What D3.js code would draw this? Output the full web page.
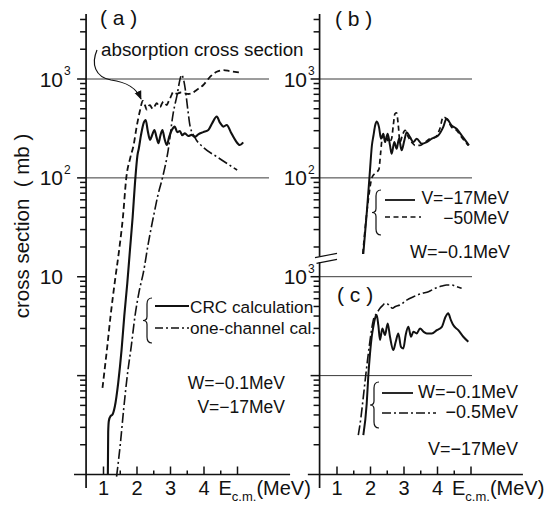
<!DOCTYPE html>
<html>
<head>
<meta charset="utf-8">
<script src="https://cdn.jsdelivr.net/npm/d3@7"></script>
<style>
  html, body { margin: 0; padding: 0; background: #fff; }
  svg { display: block; font-family: "Liberation Sans", Arial, Helvetica, sans-serif; }
</style>
</head>
<body>
<svg id="fig" width="548" height="506"></svg>
<script>
// Fusion cross sections (mb) against centre-of-mass energy E (MeV): [E, sigma]

// (a) CRC calculation, absorption cross section, one-channel calculation
const crcA = [[1.13,0.1],[1.14,0.27],[1.16,0.35],[1.21,0.39],[1.26,0.40],[1.34,0.49],[1.44,0.85],
  [1.54,1.83],[1.62,4.0],[1.71,8.6],[1.79,18.7],[1.87,40],[1.94,89],[2.02,175],[2.05,195],
  [2.12,272],[2.2,360],[2.26,385],[2.32,300],[2.39,242],[2.45,270],[2.52,305],[2.58,260],
  [2.64,224],[2.7,270],[2.76,305],[2.82,250],[2.89,215],[2.96,260],[3.04,305],[3.13,330],
  [3.2,290],[3.28,298],[3.35,270],[3.43,282],[3.53,265],[3.63,272],[3.73,260],[3.83,276],
  [3.98,290],[4.13,305],[4.25,360],[4.38,417],[4.48,360],[4.58,330],[4.68,343],[4.8,290],
  [4.93,242],[5.07,215],[5.17,229]];
const absorptionA = [[0.97,0.75],[1.04,1.2],[1.10,1.8],[1.21,4.0],[1.34,9],[1.47,19],[1.58,40],
  [1.68,100],[1.80,160],[1.90,215],[1.99,330],[2.09,480],[2.17,600],[2.24,540],[2.29,490],
  [2.34,530],[2.39,545],[2.44,510],[2.49,500],[2.54,540],[2.59,570],[2.64,540],[2.69,520],
  [2.74,560],[2.79,590],[2.84,560],[2.89,545],[2.94,590],[2.99,640],[3.04,700],[3.08,740],
  [3.14,720],[3.19,710],[3.3,730],[3.43,717],[3.53,705],[3.63,717],[3.78,775],[3.98,870],
  [4.18,1050],[4.38,1185],[4.58,1230],[4.78,1200],[4.98,1175],[5.13,1160]];
const oneChannelA = [[1.39,0.095],[1.50,0.2],[1.60,0.45],[1.71,1.0],[1.83,2.0],[1.94,4.0],
  [2.06,7.0],[2.19,11],[2.34,22],[2.50,42],[2.63,68],[2.76,100],[2.93,190],[3.08,450],
  [3.20,700],[3.28,980],[3.33,1100],[3.40,950],[3.45,750],[3.52,480],[3.58,340],[3.73,255],
  [3.97,205],[4.39,163],[4.99,120]];

// (b) V = -17 MeV and V = -50 MeV, W = -0.1 MeV
const v17B = [[1.785,17],[1.89,45],[1.985,120],[2.04,210],[2.09,270],[2.14,340],[2.185,372],
  [2.254,326],[2.313,249],[2.382,279],[2.433,230],[2.513,279],[2.582,213],[2.633,175],
  [2.71,230],[2.78,197],[2.85,249],[2.93,190],[3.01,239],[3.08,290],[3.18,258],[3.28,230],
  [3.38,249],[3.53,221],[3.68,230],[3.83,249],[4.02,268],[4.17,326],[4.27,396],[4.42,339],
  [4.57,314],[4.72,269],[4.87,230],[4.94,213]];
const v50B = [[1.77,17],[1.86,36],[1.94,62],[2.04,100],[2.1,108],[2.18,114],[2.25,122],
  [2.3,175],[2.34,240],[2.41,279],[2.48,258],[2.55,230],[2.63,249],[2.68,339],[2.73,445],
  [2.78,455],[2.83,339],[2.88,230],[2.95,268],[3.03,302],[3.13,258],[3.23,230],[3.33,213],
  [3.48,213],[3.63,230],[3.78,249],[3.93,258],[4.07,314],[4.17,413],[4.27,396],[4.42,326],
  [4.57,302],[4.72,258],[4.92,213]];

// (c) W = -0.1 MeV and W = -0.5 MeV, V = -17 MeV
const w01C = [[1.786,25],[1.887,52],[1.935,100],[1.985,167],[2.036,246],[2.084,311],[2.134,378],
  [2.185,409],[2.234,323],[2.284,229],[2.353,300],[2.433,257],[2.513,337],[2.582,247],
  [2.68,181],[2.753,220],[2.83,267],[2.91,195],[2.98,188],[3.05,257],[3.13,311],[3.21,247],
  [3.28,278],[3.38,267],[3.48,300],[3.58,278],[3.68,267],[3.83,267],[3.98,288],[4.13,311],
  [4.24,393],[4.32,426],[4.4,364],[4.47,324],[4.62,288],[4.77,247],[4.92,220]];
const w05C = [[1.636,25],[1.716,38],[1.786,61],[1.857,100],[1.935,167],[2.015,267],[2.084,364],
  [2.185,426],[2.284,479],[2.36,510],[2.433,537],[2.51,530],[2.582,500],[2.66,480],[2.73,497],
  [2.88,517],[3.08,580],[3.28,627],[3.53,678],[3.73,705],[3.93,763],[4.13,805],[4.27,824],
  [4.42,824],[4.57,792],[4.72,763]];

// axis ticks and labels
const xTickValues = [1, 2, 3, 4];
const xTickLabels = ["1", "2", "3", "4"];
const xMinorValues = [1.5, 2.5, 3.5, 4.5];
const xMajorValues = [1, 2, 3, 4, 5];
const yLabelValuesA = [1000, 100, 10];
const yLabelBaseA = ["10", "10", "10"];
const yLabelSupA = ["3", "2", ""];
const yLabelValuesB = [1000, 100];
const yLabelBaseB = ["10", "10"];
const yLabelSupB = ["3", "2"];
const yLabelValuesC = [1000];
const yLabelBaseC = ["10"];
const yLabelSupC = ["3"];

const svg = d3.select("#fig");
const ink = "#111";

// scales
const xA = d3.scaleLinear().domain([1, 5]).range([103.5, 237.5]);
const xR = d3.scaleLinear().domain([1, 5]).range([337, 471]);
const yA = d3.scaleLog().domain([0.1, 1000]).range([474.5, 79]);
const yB = yA.copy();
const yC = d3.scaleLog().domain([10, 1000]).range([474.5, 276.7]);

// arrow head
svg.append("defs").append("marker")
  .attr("id", "head").attr("viewBox", "0 0 10 10")
  .attr("refX", 9).attr("refY", 5)
  .attr("markerWidth", 9).attr("markerHeight", 9)
  .attr("markerUnits", "userSpaceOnUse")
  .attr("orient", "auto")
  .append("path").attr("d", "M0,1 L10,5 L0,9 Z").attr("fill", ink);

// minor log ticks between lo and hi (powers of ten left out)
function logTicks(lo, hi) {
  return d3.scaleLog().domain([lo, hi]).ticks()
    .filter(v => v >= lo * 1.01 && v <= hi && Math.abs(Math.log10(v) - Math.round(Math.log10(v))) > 1e-6);
}

function yTickMarks(y, ax, vals, len) {
  svg.append("g").selectAll("line").data(vals).join("line")
    .attr("x1", ax - len).attr("x2", ax)
    .attr("y1", d => y(d)).attr("y2", d => y(d))
    .attr("stroke", ink).attr("stroke-width", 1.5);
}

function xTickMarks(x, ay, vals, len) {
  svg.append("g").selectAll("line").data(vals).join("line")
    .attr("x1", d => x(d)).attr("x2", d => x(d))
    .attr("y1", ay - len).attr("y2", ay)
    .attr("stroke", ink).attr("stroke-width", 1.5);
}

function yAxis(y, ax, top, bot, lo, hi, majors) {
  yTickMarks(y, ax, logTicks(lo, hi), 6);
  yTickMarks(y, ax, majors, 9);
  svg.append("line").attr("x1", ax).attr("x2", ax).attr("y1", top).attr("y2", bot)
    .attr("stroke", ink).attr("stroke-width", 1.7);
}

function xAxis(x, ay, e0, e1) {
  xTickMarks(x, ay, xMajorValues, 8);
  xTickMarks(x, ay, xMinorValues, 4);
  svg.append("line").attr("x1", x(e0)).attr("x2", x(e1)).attr("y1", ay).attr("y2", ay)
    .attr("stroke", ink).attr("stroke-width", 1.7);
  svg.append("g").selectAll("text").data(xTickValues).join("text")
    .attr("x", d => x(d)).attr("y", 495)
    .attr("text-anchor", "middle").attr("font-size", 20).attr("fill", ink)
    .text((d, i) => xTickLabels[i]);
  const t = svg.append("text").attr("x", x(5) - 19).attr("y", 495)
    .attr("font-size", 20).attr("fill", ink);
  t.append("tspan").text("E");
  t.append("tspan").attr("font-size", 13).attr("dy", 6).text("c.m.");
  t.append("tspan").attr("dy", -6).text("(MeV)");
}

function grid(y, vals, x1, x2) {
  svg.append("g").selectAll("line").data(vals).join("line")
    .attr("x1", x1).attr("x2", x2)
    .attr("y1", d => y(d)).attr("y2", d => y(d))
    .attr("stroke", "#3a3a3a").attr("stroke-width", 1);
}

function yLabels(y, vals, base, sup, right) {
  const g = svg.append("g");
  vals.forEach((v, i) => {
    g.append("text").attr("x", right).attr("y", y(v) + 7.5)
      .attr("text-anchor", "end").attr("font-size", 21).attr("fill", ink).text(base[i]);
    if (sup[i]) {
      g.append("text").attr("x", right + 1).attr("y", y(v) - 4)
        .attr("font-size", 12).attr("fill", ink).text(sup[i]);
    }
  });
}

function curve(data, x, y, width, dash) {
  const line = d3.line().x(d => x(d[0])).y(d => y(d[1])).curve(d3.curveMonotoneX);
  svg.append("path").datum(data).attr("d", line)
    .attr("fill", "none").attr("stroke", ink).attr("stroke-width", width)
    .attr("stroke-linejoin", "round")
    .attr("stroke-dasharray", dash || null);
}

function brace(x0, yTop, yBot) {
  const m = (yTop + yBot) / 2, xi = x0 + 4, x1 = x0 + 9;
  svg.append("path")
    .attr("d", `M${x1},${yTop} Q${xi},${yTop} ${xi},${yTop + 6} L${xi},${m - 4} Q${xi},${m} ${x0},${m}` +
               ` Q${xi},${m} ${xi},${m + 4} L${xi},${yBot - 6} Q${xi},${yBot} ${x1},${yBot}`)
    .attr("fill", "none").attr("stroke", ink).attr("stroke-width", 1.2);
}

function label(x, y, txt, size, anchor) {
  svg.append("text").attr("x", x).attr("y", y).attr("font-size", size)
    .attr("text-anchor", anchor || "start").attr("fill", ink).text(txt);
}

function legendLine(x1, x2, y, width, dash) {
  svg.append("line").attr("x1", x1).attr("x2", x2).attr("y1", y).attr("y2", y)
    .attr("stroke", ink).attr("stroke-width", width).attr("stroke-dasharray", dash || null);
}

const dashAbs = "6,3.5";
const dashDot = "10,3,2,3";
const dashB = "5,3.5";

// ---------- panel (a)
const axA = xA(0.48);
grid(yA, [100, 1000], axA, 269);
yAxis(yA, axA, 14, 488, 0.1, 4500, [1, 10, 100, 1000]);
xAxis(xA, 474.5, 0.12, 6.57);
yLabels(yA, yLabelValuesA, yLabelBaseA, yLabelSupA, 63);
curve(absorptionA, xA, yA, 1.8, dashAbs);
curve(oneChannelA, xA, yA, 1.6, dashDot);
curve(crcA, xA, yA, 2.1);
label(100, 25, "( a )", 21);
label(101, 56, "absorption cross section", 18.8);
svg.append("path").attr("d", "M97,50 C91,64 95,77 111,80 C126,82 136,87 141,99")
  .attr("fill", "none").attr("stroke", ink).attr("stroke-width", 1.2)
  .attr("marker-end", "url(#head)");
brace(143, 298, 343);
legendLine(155, 189, 306, 1.8);
label(190, 313, "CRC calculation", 17.2);
legendLine(155, 189, 328, 1.6, "8,3,2,3");
label(190, 334, "one-channel cal.", 17.2);
label(285, 389, "W=\u22120.1MeV", 17.5, "end");
label(285, 413, "V=\u221217MeV", 17.5, "end");

// y title
svg.append("text").attr("transform", "translate(29,226) rotate(-90)")
  .attr("text-anchor", "middle").attr("font-size", 20.5).attr("fill", ink)
  .attr("xml:space", "preserve")
  .text("cross section  ( mb )");

// ---------- panel (b)
const axR = xR(0.48);
grid(yB, [100, 1000], axR, 472);
yAxis(yB, axR, 14, 256.5, 15, 4500, [100, 1000]);
yLabels(yB, yLabelValuesB, yLabelBaseB, yLabelSupB, 307);
curve(v50B, xR, yB, 1.7, dashB);
curve(v17B, xR, yB, 2.0);
label(335, 26, "( b )", 21);
brace(372, 190, 235);
legendLine(385, 415, 200, 1.8);
label(509, 204, "V=\u221217MeV", 17.5, "end");
legendLine(385, 421, 217, 1.6, dashB);
label(509, 223.5, "\u221250MeV", 17.5, "end");
label(510, 258, "W=\u22120.1MeV", 18, "end");

// axis break between (b) and (c)
svg.append("line").attr("x1", 315).attr("y1", 257.7).attr("x2", 337).attr("y2", 253.3)
  .attr("stroke", ink).attr("stroke-width", 1.2);
svg.append("line").attr("x1", 316.5).attr("y1", 263.3).attr("x2", 337).attr("y2", 259.3)
  .attr("stroke", ink).attr("stroke-width", 1.2);

// ---------- panel (c)
grid(yC, [100, 1000], axR, 472);
yAxis(yC, axR, 262, 488, 10, 1400, [100, 1000]);
xAxis(xR, 474.5, 0.13, 6.55);
yLabels(yC, yLabelValuesC, yLabelBaseC, yLabelSupC, 307);
curve(w05C, xR, yC, 1.6, dashDot);
curve(w01C, xR, yC, 2.0);
label(337, 302, "( c )", 21);
brace(370, 382, 428);
legendLine(382, 413, 393, 1.8);
label(518, 398, "W=\u22120.1MeV", 18, "end");
legendLine(382, 436, 413, 1.6, "9,3,2,3");
label(518, 418, "\u22120.5MeV", 18, "end");
label(518, 455, "V=\u221217MeV", 18, "end");
</script>
</body>
</html>
